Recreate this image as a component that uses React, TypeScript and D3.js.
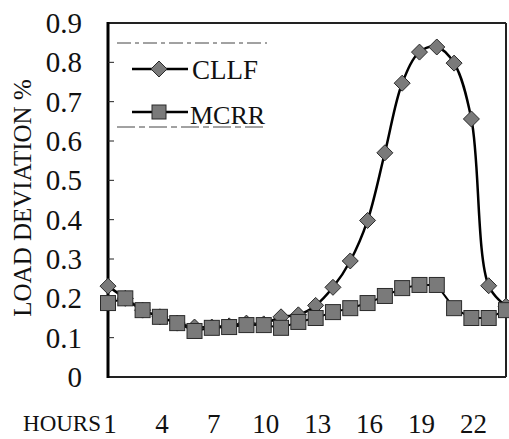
import React from "react";
import * as d3 from "d3";

const hours = d3.range(1, 25);
const cllf = [0.231, 0.2, 0.17, 0.153, 0.137, 0.127, 0.127, 0.13, 0.137, 0.135, 0.153, 0.158, 0.182, 0.228, 0.295, 0.398, 0.57, 0.747, 0.826, 0.839, 0.798, 0.656, 0.232, 0.18];
const mcrr = [0.188, 0.2, 0.17, 0.153, 0.137, 0.117, 0.125, 0.127, 0.132, 0.132, 0.125, 0.14, 0.15, 0.165, 0.175, 0.188, 0.206, 0.226, 0.234, 0.234, 0.175, 0.15, 0.15, 0.17];
const yTicks = [0, 0.1, 0.2, 0.3, 0.4, 0.5, 0.6, 0.7, 0.8, 0.9];
const xTicks = [1, 4, 7, 10, 13, 16, 19, 22];
const seriesNames = ["CLLF", "MCRR"];

const W = 509, H = 439;
const L = 108, R = 506, T = 23, B = 377;
const FONT = '"Liberation Serif", "Times New Roman", Tinos, "DejaVu Serif", serif';

export default function App() {
  const x = d3.scaleLinear().domain([1, 24]).range([L, R]);
  const y = d3.scaleLinear().domain([0, 0.9]).range([B, T]);
  const smooth = d3.line<number>().x((_, i) => x(hours[i])).y((d) => y(d)).curve(d3.curveCatmullRom.alpha(0.5));
  const straight = d3.line<number>().x((_, i) => x(hours[i])).y((d) => y(d));
  const dia = (cx: number, cy: number, r: number) => `M${cx},${cy - r}L${cx + r},${cy}L${cx},${cy + r}L${cx - r},${cy}Z`;
  const fill = "#7a7a7a";
  const mstroke = "#2a2a2a";
  const ts = { fontFamily: FONT };
  return (
    <svg width={W} height={H} style={{ position: "absolute", left: 0, top: 0, background: "#fff", fontFamily: FONT }}>
      <rect x={0} y={0} width={W} height={H} fill="#fff" />
      {/* frame */}
      <line x1={L} x2={R} y1={T} y2={T} stroke="#222" strokeWidth={2} />
      <line x1={R} x2={R} y1={T} y2={B} stroke="#222" strokeWidth={2} />
      <line x1={L} x2={R} y1={B} y2={B} stroke="#222" strokeWidth={2} />
      <line x1={L} x2={L} y1={T - 1} y2={B + 1} stroke="#000" strokeWidth={3} />
      {yTicks.map((t) => (
        <g key={t}>
          {t > 0 && t < 0.9 && <line x1={L} x2={L + 6} y1={y(t)} y2={y(t)} stroke="#222" strokeWidth={1} />}
          <text x={82} y={y(t) + 10} fontSize={29} textAnchor="end" fill="#111" style={ts}>
            {t === 0 ? "0" : t.toFixed(1)}
          </text>
        </g>
      ))}
      {xTicks.map((h) => (
        <text key={h} x={x(h) + 2} y={433} fontSize={27} textAnchor="middle" fill="#111" style={ts}>
          {h}
        </text>
      ))}
      <text x={101} y={431} fontSize={23} textAnchor="end" fill="#111" style={ts}>HOURS</text>
      <text transform={`translate(31,198) rotate(-90)`} fontSize={25} textAnchor="middle" fill="#111" style={ts}>
        LOAD DEVIATION %
      </text>
      {/* legend */}
      <line x1={117} x2={267} y1={43} y2={43} stroke="#444" strokeWidth={1} strokeDasharray="14 4 4 4" />
      <line x1={117} x2={267} y1={127} y2={127} stroke="#444" strokeWidth={1} strokeDasharray="18 4 6 4" />
      <line x1={132} x2={188} y1={69} y2={69} stroke="#000" strokeWidth={2.5} />
      <path d={dia(159, 69, 8)} fill={fill} stroke={mstroke} strokeWidth={1} />
      <text x={192} y={79} fontSize={27} fill="#111" style={ts}>{seriesNames[0]}</text>
      <line x1={132} x2={188} y1={112} y2={112} stroke="#000" strokeWidth={2.5} />
      <rect x={152} y={105} width={14} height={14} fill={fill} stroke={mstroke} strokeWidth={1} />
      <text x={190} y={124} fontSize={26} fill="#111" style={ts}>{seriesNames[1]}</text>
      {/* CLLF */}
      <path d={smooth(cllf) || ""} fill="none" stroke="#000" strokeWidth={2.5} />
      {cllf.map((v, i) => (
        <path key={"c" + i} d={dia(x(hours[i]), y(v), 8)} fill={fill} stroke={mstroke} strokeWidth={1} />
      ))}
      {/* MCRR */}
      <path d={straight(mcrr) || ""} fill="none" stroke="#000" strokeWidth={2} />
      {mcrr.map((v, i) => (
        <rect key={"m" + i} x={x(hours[i]) - 7.5} y={y(v) - 7.5} width={15} height={15} fill={fill} stroke={mstroke} strokeWidth={1} />
      ))}
    </svg>
  );
}
